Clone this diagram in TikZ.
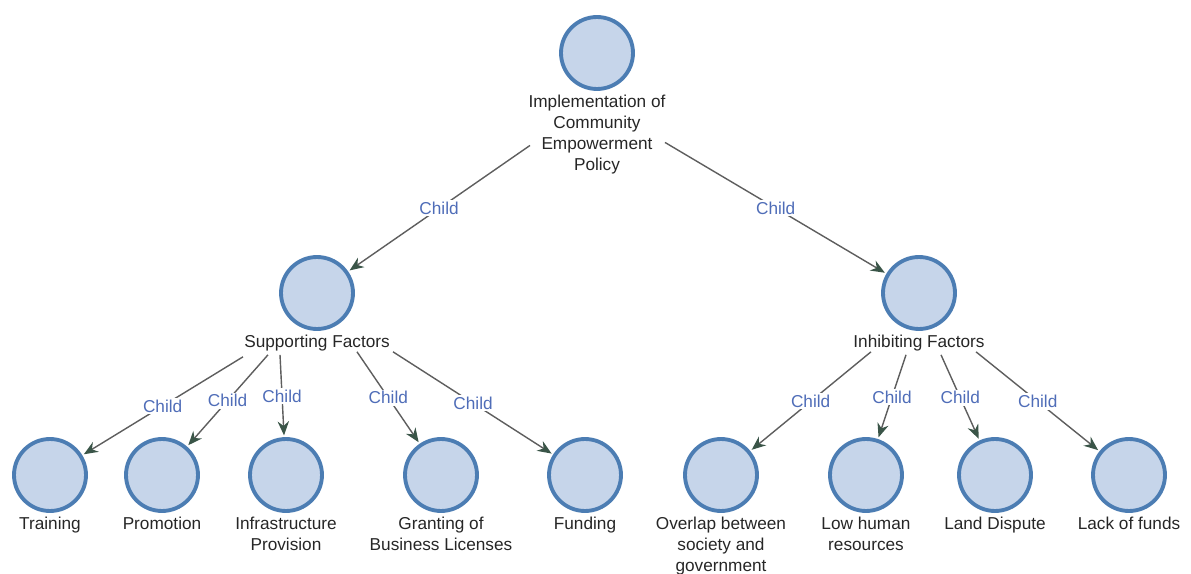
\documentclass[tikz,border=0pt]{standalone}
\usepackage{fontspec}
\setmainfont{Liberation Sans}
\usetikzlibrary{arrows.meta}
\usetikzlibrary{positioning}
\definecolor{nodefill}{HTML}{C6D5EA}
\definecolor{nodeline}{HTML}{4C7DB3}
\definecolor{edgeline}{HTML}{5E5E5E}
\definecolor{tipcolor}{HTML}{3A5548}
\definecolor{childblue}{HTML}{4F6DB8}
\begin{document}
\begin{tikzpicture}
[x=0.02cm,y=-0.02cm,
  nodedecorate/.style={shape=circle,draw=nodeline,fill=nodefill,line width=2.2pt,minimum size=1.44cm,inner sep=0pt},%
  textdecorate/.style={align=center,inner sep=1pt,text=black!85,font=\fontsize{9.8}{12}\selectfont},%
  linedecorate/.style={draw=edgeline,line width=0.8pt,shorten >=1pt,-{Stealth[length=8pt,width=6.5pt,color=tipcolor]}},%
  labeldecorate/.style={fill=white,inner sep=1pt,text=childblue,font=\fontsize{9.8}{12}\selectfont}]
\useasboundingbox (0,0) rectangle (1191,574);
%% nodes or vertices
\foreach \nodename/\x/\y/\caption in {imp/597/53/{Implementation of\\Community\\Empowerment\\Policy},
  sup/317/293/{Supporting Factors}, inh/919/293/{Inhibiting Factors},
  train/50/475/{Training}, promo/162/475/{Promotion}, infra/286/475/{Infrastructure\\Provision},
  grant/441/475/{Granting of\\Business Licenses}, fund/585/475/{Funding},
  overlap/721/475/{Overlap between\\society and\\government}, lowhr/866/475/{Low human\\resources},
  land/995/475/{Land Dispute}, lack/1129/475/{Lack of funds}}
{
  \node (\nodename) at (\x,\y) [nodedecorate] {};
  \node (\nodename t) [below=1pt of \nodename, textdecorate] {\caption};
}
%% edges or lines
\path
\foreach \startnode/\endnode/\dx/\dy in {imp/sup/-67/11, imp/inh/68/8,
  sup/train/-74/14, sup/promo/-49/12, sup/infra/-37/12, sup/grant/40/9, sup/fund/76/9,
  inh/overlap/-48/9, inh/lowhr/-13/12, inh/land/22/12, inh/lack/57/9}
{
  ([shift={(\dx,\dy)}]\startnode t.center) edge[linedecorate] node[labeldecorate] {Child} (\endnode)
};
\end{tikzpicture}
\end{document}
